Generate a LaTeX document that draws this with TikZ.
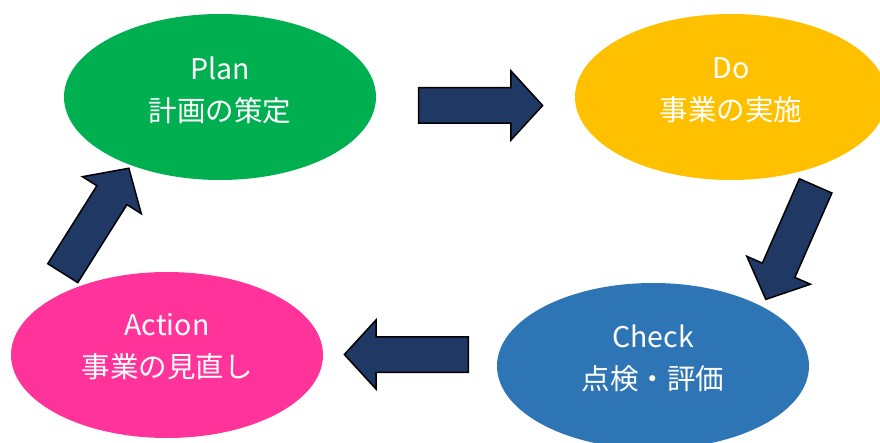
\documentclass[tikz,border=0pt]{standalone}
\usepackage{fontspec}
\setmainfont{Noto Sans CJK JP}
\usetikzlibrary{shapes.geometric,shapes.arrows}

\definecolor{plangreen}{HTML}{00B050}
\definecolor{doyellow}{HTML}{FFC000}
\definecolor{checkblue}{HTML}{2E75B6}
\definecolor{actpink}{HTML}{FF3399}
\definecolor{navy}{HTML}{1F3864}

\begin{document}
\begin{tikzpicture}
	[x=1pt,y=-1pt,
	phase/.style={ellipse, minimum width=312, minimum height=166, inner sep=0},
	txt/.style={text=white, align=center, font=\fontsize{28.5}{42}\selectfont},
	blockarrow/.style={single arrow, draw=black, fill=navy, line width=1.5,
		minimum height=124, inner xsep=0, inner ysep=17,
		single arrow head extend=17, single arrow tip angle=95}]
	\useasboundingbox (0,0) rectangle (880,443);
	\clip (0,0) rectangle (880,443);
	\node[phase, fill=plangreen] (plan) at (220,97) {};
	\node[phase, fill=doyellow] (do) at (731,97) {};
	\node[phase, fill=checkblue] (check) at (653,366) {};
	\node[phase, fill=actpink] (act) at (167,355) {};
	
	\node[txt] (plan-t) at ([yshift=7]plan) {Plan\\計画の策定};
	\node[txt] (do-t) at ([yshift=7]do) {Do\\事業の実施};
	\node[txt] (check-t) at ([yshift=8]check) {Check\\点検・評価};
	\node[txt] (act-t) at ([yshift=8]act) {Action\\事業の見直し};
	
	\foreach \name/\x/\y/\ang in {a1/472.5/105.5/0,a2/794/235.2/246.3,a3/414.5/354.5/180,a4/91.5/227.6/57.8}
	\node[blockarrow, rotate=\ang] (\name) at (\x,\y) {};
\end{tikzpicture}
\end{document}
